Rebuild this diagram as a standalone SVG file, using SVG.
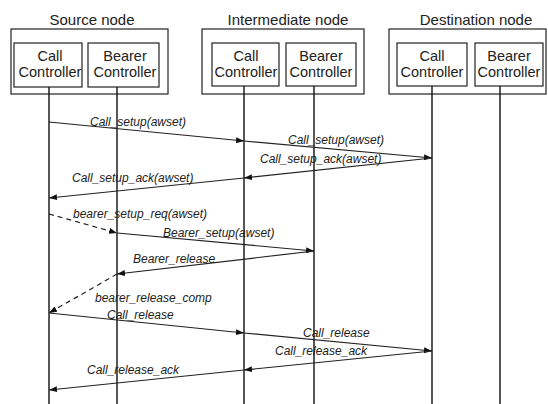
<svg xmlns="http://www.w3.org/2000/svg" width="548" height="404" viewBox="0 0 548 404">
<style>
.box{fill:#fff;stroke:#222;stroke-width:1.2}
.title{font-family:"Liberation Sans",Arial,sans-serif;font-size:15px;fill:#222;text-anchor:middle}
.ctl{font-family:"Liberation Sans",Arial,sans-serif;font-size:14.5px;fill:#222;text-anchor:middle}
.life{stroke:#111;stroke-width:1.4;fill:none}
.msg{stroke:#222;stroke-width:1.2;fill:none;marker-end:url(#ah)}
.dash{stroke-dasharray:5,4}
.lbl{font-family:"Liberation Sans",Arial,sans-serif;font-size:12px;font-style:italic;fill:#222}
</style>
<defs>
<marker id="ah" markerWidth="8" markerHeight="6" refX="8" refY="3" orient="auto" markerUnits="userSpaceOnUse">
<path d="M0,0 L8,3 L0,6 z" fill="#111"/>
</marker>
</defs>
<rect width="548" height="404" fill="#fff"/>
<g id="source-node">
<text class="title" x="92" y="25">Source node</text>
<rect class="box" x="11" y="29" width="157" height="65"/>
<g id="source-call">
<rect class="box" x="14" y="43" width="68" height="44"/>
<text class="ctl" x="50" y="61">Call</text>
<text class="ctl" x="50" y="77">Controller</text>
</g>
<g id="source-bearer">
<rect class="box" x="88" y="43" width="71" height="44"/>
<text class="ctl" x="125" y="61">Bearer</text>
<text class="ctl" x="125" y="77">Controller</text>
</g>
</g>
<g id="intermediate-node">
<text class="title" x="288" y="25">Intermediate node</text>
<rect class="box" x="202" y="29" width="162" height="65"/>
<g id="intermediate-call">
<rect class="box" x="212" y="43" width="67" height="43"/>
<text class="ctl" x="246" y="61">Call</text>
<text class="ctl" x="246" y="77">Controller</text>
</g>
<g id="intermediate-bearer">
<rect class="box" x="286" y="43" width="70" height="43"/>
<text class="ctl" x="321" y="61">Bearer</text>
<text class="ctl" x="321" y="77">Controller</text>
</g>
</g>
<g id="destination-node">
<text class="title" x="476" y="25">Destination node</text>
<rect class="box" x="389" y="29" width="157" height="65"/>
<g id="destination-call">
<rect class="box" x="397" y="43" width="70" height="43"/>
<text class="ctl" x="432" y="61">Call</text>
<text class="ctl" x="432" y="77">Controller</text>
</g>
<g id="destination-bearer">
<rect class="box" x="475" y="43" width="68" height="43"/>
<text class="ctl" x="509" y="61">Bearer</text>
<text class="ctl" x="509" y="77">Controller</text>
</g>
</g>
<g id="lifelines">
<line class="life" x1="49" y1="87" x2="49" y2="404"/>
<line class="life" x1="117" y1="87" x2="117" y2="404"/>
<line class="life" x1="244" y1="86" x2="244" y2="404"/>
<line class="life" x1="314" y1="86" x2="314" y2="404"/>
<line class="life" x1="432" y1="86" x2="432" y2="404"/>
<line class="life" x1="500" y1="86" x2="500" y2="404"/>
</g>
<g id="connectors">
<line class="msg" x1="49" y1="122" x2="244" y2="141"/>
<line class="msg" x1="244" y1="141" x2="432" y2="158"/>
<line class="msg" x1="432" y1="158" x2="244" y2="178"/>
<line class="msg" x1="244" y1="178" x2="49" y2="198"/>
<line class="msg dash" x1="49" y1="214" x2="117" y2="233"/>
<line class="msg" x1="117" y1="233" x2="314" y2="251"/>
<line class="msg" x1="314" y1="251" x2="117" y2="274"/>
<line class="msg dash" x1="117" y1="274" x2="49" y2="313"/>
<line class="msg" x1="49" y1="313" x2="244" y2="333"/>
<line class="msg" x1="244" y1="333" x2="432" y2="351"/>
<line class="msg" x1="432" y1="351" x2="244" y2="370"/>
<line class="msg" x1="244" y1="370" x2="49" y2="390"/>
</g>
<g id="labels">
<text class="lbl" x="90" y="126">Call_setup(awset)</text>
<text class="lbl" x="288" y="144">Call_setup(awset)</text>
<text class="lbl" x="260" y="163">Call_setup_ack(awset)</text>
<text class="lbl" x="72" y="182">Call_setup_ack(awset)</text>
<text class="lbl" x="73" y="218">bearer_setup_req(awset)</text>
<text class="lbl" x="163" y="237">Bearer_setup(awset)</text>
<text class="lbl" x="133" y="263">Bearer_release</text>
<text class="lbl" x="95" y="302">bearer_release_comp</text>
<text class="lbl" x="107" y="319">Call_release</text>
<text class="lbl" x="303" y="337">Call_release</text>
<text class="lbl" x="275" y="355">Call_release_ack</text>
<text class="lbl" x="87" y="374">Call_release_ack</text>
</g>
</svg>
